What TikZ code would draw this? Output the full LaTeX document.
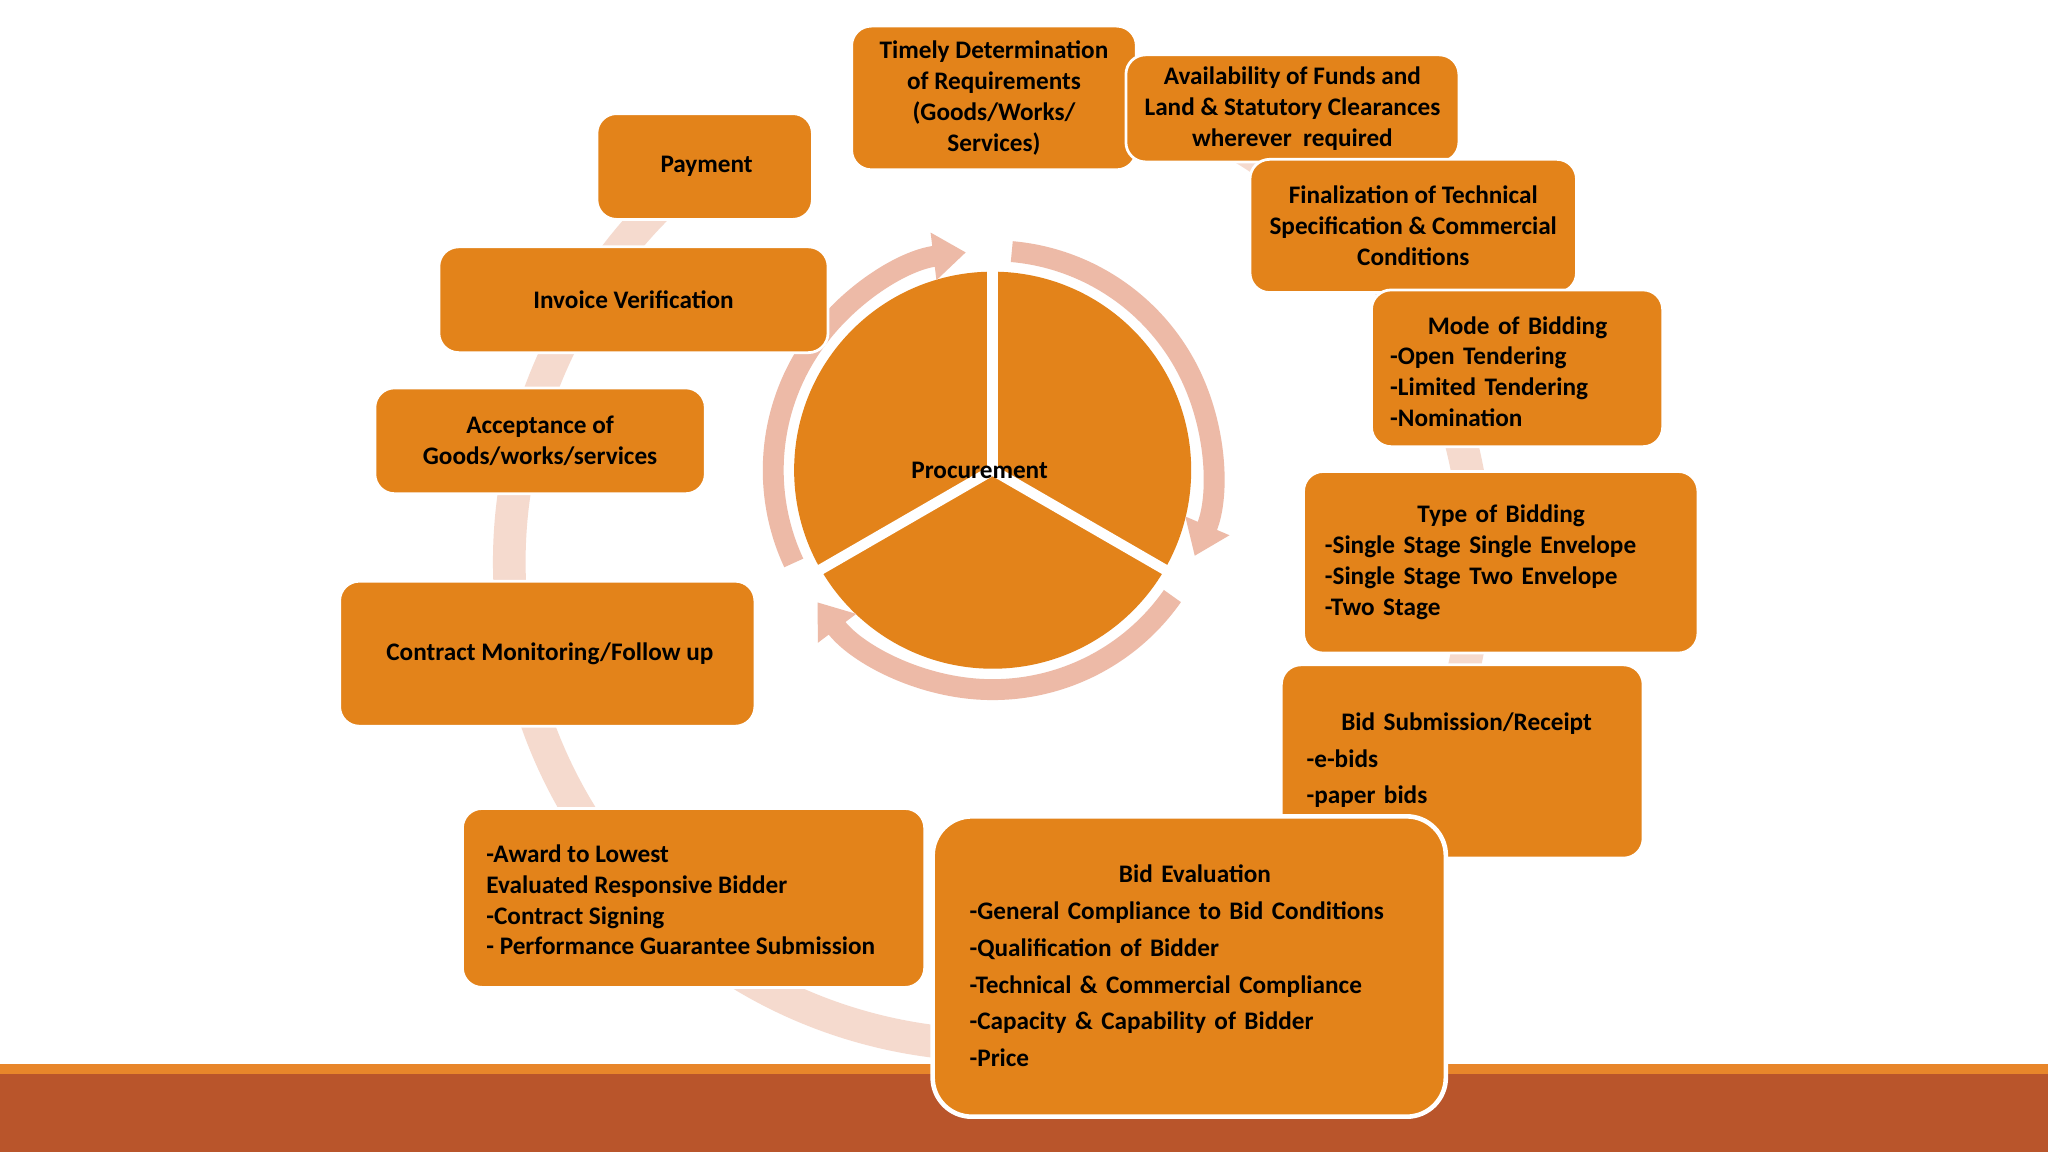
\documentclass[tikz,border=0pt]{standalone}
\usepackage{fontspec}
\setmainfont{Carlito}
\usetikzlibrary{arrows.meta}
\definecolor{boxor}{HTML}{E3831A}
\definecolor{pinkbig}{HTML}{F5DACE}
\definecolor{pinkring}{HTML}{EDBAA7}
\definecolor{barline}{HTML}{E8862A}
\definecolor{barfill}{HTML}{B9552B}
\tikzset{
 box/.style={draw=white, line width=1.2pt, fill=boxor, rounded corners=0.3cm, inner sep=0pt},
 txt/.style={font=\fontsize{11}{13.4}\selectfont\bfseries, text=black, inner sep=0pt},
 ltxt/.style={txt, align=left, anchor=west},
}
\begin{document}
\begin{tikzpicture}[x=0.02cm,y=0.02cm]
\useasboundingbox (0,0) rectangle (1568,882);
\fill[white] (0,0) rectangle (1568,882);
% bottom bar
\fill[barline] (0,60) rectangle (1568,67);
\fill[barfill] (0,0) rectangle (1568,60);
% big cycle arrow
\draw[pinkbig, line width=0.5cm, -{Triangle[width=1.1cm,length=0.8cm]}] (760,452) ++(75:370) arc[start angle=75, end angle=-244, radius=370];
% inner pie
\coordinate (c) at (760,522);
\fill[boxor] (c) circle[radius=152];
\foreach \s/\e in {205/97, 85/-23, -35/-143}{
 \draw[pinkring, line width=0.32cm, -{Triangle[width=0.7cm,length=0.5cm]}] (c) ++(\s:168) arc[start angle=\s, end angle=\e, radius=168];
}
\foreach \a in {90,-30,210}{
 \draw[white, line width=0.16cm] (c) -- ++(\a:185);
}
\node[txt] (proc) at (750,522) {Procurement};
% boxes
\node[box, minimum width=4.36cm, minimum height=2.2cm] (b1) at (761,807) {};
\node[txt, align=center] (t1) at (b1) {Timely Determination\\of Requirements\\(Goods/Works/\\Services)};
\node[box, minimum width=5.1cm, minimum height=1.64cm] (b2) at (989.5,799) {};
\node[txt, align=center] (t2) at (b2) {Availability of Funds and\\Land \& Statutory Clearances\\wherever\ \ required};
\node[box, minimum width=5.0cm, minimum height=2.04cm] (b3) at (1082,709) {};
\node[txt, align=center] (t3) at (b3) {Finalization of Technical\\Specification \& Commercial\\Conditions};
\node[box, minimum width=4.46cm, minimum height=2.4cm] (b4) at (1161.5,600) {};
\node[ltxt, text width=4.0cm, yshift=-0.05cm] (t4) at ([xshift=0.3cm]b4.west) {\makebox[3.9cm]{Mode of Bidding}\\-Open Tendering\\-Limited Tendering\\-Nomination};
\node[box, minimum width=6.04cm, minimum height=2.78cm] (b5) at (1149,451.5) {};
\node[ltxt, text width=5.4cm] (t5) at ([xshift=0.34cm]b5.west) {\makebox[5.4cm]{Type of Bidding}\\-Single Stage Single Envelope\\-Single Stage Two Envelope\\-Two Stage};
\node[box, minimum width=5.54cm, minimum height=2.96cm] (b6) at (1119.5,299) {};
\node[ltxt, text width=4.9cm, font=\fontsize{11}{16}\selectfont\bfseries] (t6) at (1000,300) {\makebox[4.9cm]{Bid Submission/Receipt}\\-e-bids\\-paper bids};
\node[box, minimum width=7.86cm, minimum height=4.6cm, line width=2pt, rounded corners=0.6cm] (b7) at (910.5,142) {};
\node[ltxt, text width=7.0cm, font=\fontsize{11}{16}\selectfont\bfseries] (t7) at (742,142.5) {\makebox[6.9cm]{Bid Evaluation}\\-General Compliance to Bid Conditions\\-Qualification of Bidder\\-Technical \& Commercial Compliance\\-Capacity \& Capability of Bidder\\-Price};
\node[box, minimum width=7.08cm, minimum height=2.74cm] (b8) at (531,194.5) {};
\node[ltxt] (t8) at (372,193) {-Award to Lowest\\Evaluated Responsive Bidder\\-Contract Signing\\- Performance Guarantee Submission};
\node[box, minimum width=6.36cm, minimum height=2.22cm] (b9) at (419,381.5) {};
\node[txt] (t9) at (421,381.5) {Contract Monitoring/Follow up};
\node[box, minimum width=5.06cm, minimum height=1.62cm] (b10) at (413.5,544.5) {};
\node[txt, align=center] (t10) at (b10) {Acceptance of\\Goods/works/services};
\node[box, minimum width=5.96cm, minimum height=1.62cm] (b11) at (485,652.5) {};
\node[txt] (t11) at (b11) {Invoice Verification};
\node[box, minimum width=3.3cm, minimum height=1.62cm] (b12) at (539.5,754.5) {};
\node[txt] (t12) at (541,754.5) {Payment};
\end{tikzpicture}
\end{document}
